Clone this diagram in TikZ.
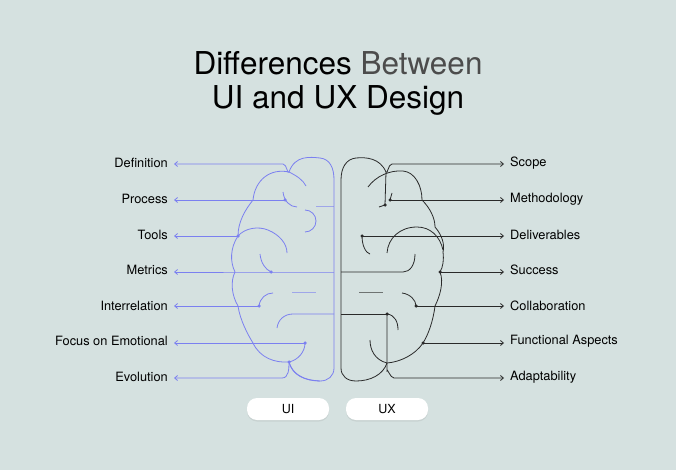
\documentclass[tikz,border=0pt]{standalone}
\usepackage{fontspec}
\setmainfont{TeX Gyre Heros}
\usetikzlibrary{arrows.meta,shadows}
\definecolor{bg}{HTML}{D5E1E0}
\definecolor{ui}{HTML}{7B80F0}
\definecolor{ux}{HTML}{2A2A2A}
\begin{document}
\begin{tikzpicture}[x=1pt,y=-1pt,
  lbl/.style={font=\fontsize{12.8}{15}\selectfont,text=black,inner sep=0pt},
  uil/.style={ui,line width=0.8pt},
  uxl/.style={ux,line width=0.8pt},
  arr/.style={-{Straight Barb[length=3pt,width=5pt]},shorten >=6pt},
  dotui/.style={fill=ui,circle,inner sep=0pt,minimum size=3.5pt},
  dotux/.style={fill=ux,circle,inner sep=0pt,minimum size=3.5pt},
  btn/.style={fill=white,rounded corners=10pt,minimum width=82pt,minimum height=22pt,font=\fontsize{12.5}{14}\selectfont,drop shadow={opacity=0.15,shadow xshift=0pt,shadow yshift=-1.5pt}}]
\useasboundingbox[fill=bg] (0,0) rectangle (676,470);
\node[font=\fontsize{31.5}{34}\selectfont] (t1) at (338,63) {Differences \textcolor{black!70}{Between}};
\node[font=\fontsize{31.5}{34}\selectfont] (t2) at (338,100) {UI and UX Design};
% labels left
\node[lbl,anchor=east] (l1) at (168,163) {Definition};
\node[lbl,anchor=east] (l2) at (168,199) {Process};
\node[lbl,anchor=east] (l3) at (168,235) {Tools};
\node[lbl,anchor=east] (l4) at (168,270) {Metrics};
\node[lbl,anchor=east] (l5) at (168,306) {Interrelation};
\node[lbl,anchor=east] (l6) at (168,341) {Focus on Emotional};
\node[lbl,anchor=east] (l7) at (168,377) {Evolution};
% labels right
\node[lbl,anchor=west] (r1) at (510,163) {Scope};
\node[lbl,anchor=west] (r2) at (510,199) {Methodology};
\node[lbl,anchor=west] (r3) at (510,235) {Deliverables};
\node[lbl,anchor=west] (r4) at (510,270) {Success};
\node[lbl,anchor=west] (r5) at (510,306) {Collaboration};
\node[lbl,anchor=west] (r6) at (510,341) {Functional Aspects};
\node[lbl,anchor=west] (r7) at (510,377) {Adaptability};
% ---------- left UI half ----------
\coordinate (a1) at (289,172);
\node[dotui] (d2) at (285,200) {};
\node[dotui] (d3) at (238,236) {};
\node[dotui] (d4) at (271,272) {};
\node[dotui] (d5) at (259,306) {};
\node[dotui] (d6) at (305,343) {};
\node[dotui] (d7) at (289,362) {};
\draw[uil,arr] (a1) to[out=-110,in=0] (283,164) -- (l1.east|-283,164);
\draw[uil] (a1) .. controls (295,155) and (310,157) .. (320,158) .. controls (330,159) and (334,168) .. (334,180) -- (334,368) .. controls (334,376) and (328,381) .. (320,381) .. controls (305,381) and (292,375) .. (d7.center);
\draw[uil] (a1) .. controls (270,168) and (255,180) .. (253,200) .. controls (245,210) and (238,222) .. (d3.center) .. controls (230,248) and (230,262) .. (235,272) .. controls (230,282) and (232,296) .. (238,306) .. controls (240,320) and (248,335) .. (253,343) .. controls (260,358) and (275,363) .. (d7.center);
\draw[uil] (a1) .. controls (297,176) and (303,180) .. (306,186);
\draw[uil,arr] (d2.center) -- (l2.east|-d2);
\draw[uil] (283,192) .. controls (284,201) and (290,207) .. (297,207);
\draw[uil,opacity=0.6] (316,206) -- (334,206);
\draw[uil,arr] (d3.center) -- (l3.east|-d3);
\draw[uil] (d3.center) .. controls (245,228) and (258,226) .. (268,230) .. controls (280,235) and (287,244) .. (287,253);
\draw[uil,arr] (334,272) -- (d4.center) -- (l4.east|-d4);
\draw[uil] (260,254) .. controls (261,263) and (265,269) .. (d4.center);
\draw[uil] (305,232) arc[start angle=90,end angle=-90,radius=11];
\draw[uil,arr] (d5.center) -- (l5.east|-d5);
\draw[uil] (d5.center) .. controls (260,298) and (266,293) .. (273,293);
\draw[uil,opacity=0.6] (292,292) -- (316,292);
\draw[uil] (277,328) .. controls (278,320) and (284,314) .. (293,314) -- (334,314);
\draw[uil,arr] (d6.center) -- (l6.east|-d6);
\draw[uil] (d6.center) .. controls (305,352) and (298,360) .. (d7.center);
\draw[uil,arr] (d7.center) to[out=-90,in=0] (282,378) -- (l7.east|-282,378);
\draw[uil] (d7.center) .. controls (292,372) and (300,380) .. (320,381);
% ---------- right UX half ----------
\coordinate (b1) at (386,172);
\node[dotux] (e1) at (385,205) {};
\node[dotux] (e2) at (390,200) {};
\node[dotux] (e3) at (362,236) {};
\node[dotux] (e4) at (440,272) {};
\node[dotux] (e5) at (416,306) {};
\node[dotux] (e6) at (423,343) {};
\node[dotux] (e7) at (387,314) {};
\draw[uxl,arr] (b1) to[out=-70,in=180] (392,164) -- (r1.west|-392,164);
\draw[uxl] (b1) .. controls (380,158) and (366,157) .. (356,158) .. controls (346,159) and (341,168) .. (341,180) -- (341,368) .. controls (341,376) and (347,381) .. (356,381) .. controls (370,381) and (383,375) .. (387,363);
\draw[uxl] (b1) -- (e1.center);
\draw[uxl] (e1.center) -- (379,207);
\draw[uxl,arr] (e2.center) -- (r2.west|-e2);
\draw[uxl] (e2.center) -- (392,193);
\draw[uxl] (368,187) .. controls (376,176) and (390,170) .. (403,171) .. controls (415,172) and (422,186) .. (422,200) .. controls (430,208) and (435,218) .. (435,227) .. controls (442,235) and (445,245) .. (443,252) .. controls (444,260) and (443,267) .. (e4.center) .. controls (444,282) and (440,296) .. (435,306) .. controls (433,322) and (428,335) .. (e6.center) .. controls (415,355) and (400,362) .. (387,363) .. controls (375,360) and (370,350) .. (370,340);
\draw[uxl,arr] (e3.center) -- (r3.west|-e3);
\draw[uxl] (e3.center) .. controls (362,246) and (366,253) .. (370,254);
\draw[uxl] (387,253) .. controls (388,238) and (400,227) .. (417,227) .. controls (430,227) and (440,236) .. (443,250);
\draw[uxl] (415,254) .. controls (415,265) and (410,272) .. (403,272) -- (341,272);
\draw[uxl,arr] (e4.center) -- (r4.west|-e4);
\draw[uxl,opacity=0.6] (359,292) -- (383,292);
\draw[uxl] (402,293) .. controls (410,294) and (416,300) .. (e5.center);
\draw[uxl,arr] (e5.center) -- (r5.west|-e5);
\draw[uxl,arr] (e6.center) -- (r6.west|-e6);
\draw[uxl] (341,314) -- (e7.center);
\draw[uxl] (e7.center) .. controls (395,315) and (398,322) .. (398,330);
\draw[uxl,arr] (e7.center) -- (387,371) to[out=90,in=180] (394,378) -- (r7.west|-394,378);
% buttons
\node[btn] (bui) at (288,409) {UI};
\node[btn] (bux) at (387,409) {UX};
\end{tikzpicture}
\end{document}
